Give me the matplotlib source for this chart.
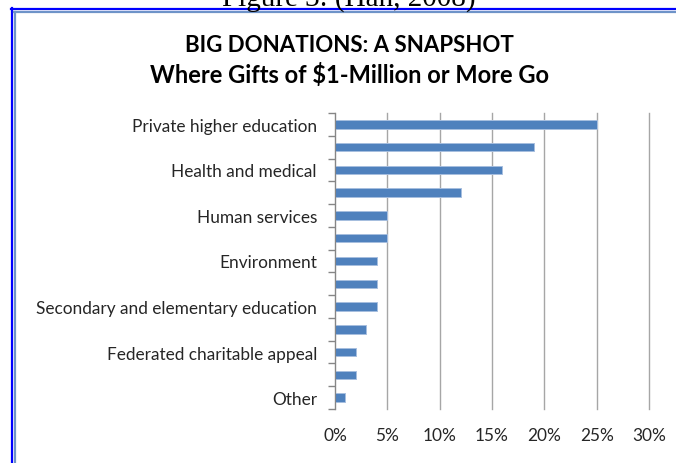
import matplotlib
matplotlib.use("Agg")
import matplotlib.pyplot as plt
import numpy as np
from matplotlib.lines import Line2D
from matplotlib.ticker import FixedLocator, PercentFormatter

# gift recipients, every other label is left blank as in the printed chart
categories = [
    "Private higher education", "", "Health and medical", "",
    "Human services", "", "Environment", "",
    "Secondary and elementary education", "", "Federated charitable appeal", "",
    "Other",
]
shares = [25, 19, 16, 12, 5, 5, 4, 4, 4, 3, 2, 2, 1]  # percent of $1M+ gifts
x_ticks = [0, 5, 10, 15, 20, 25, 30]

BAR = "#4F81BD"
GRID = "#A6A6A6"
TEXT = "#262626"

plt.rcParams["font.family"] = ["Lato", "DejaVu Sans"]

W, H = 676, 464
fig = plt.figure(figsize=(W / 100, H / 100), dpi=100)
fig.patch.set_facecolor("white")

# caption from the surrounding document, cut off by the page edge
fig.text(349 / W, 1 - 6 / H, "Figure 3: (Han, 2008)", ha="center", va="baseline",
         fontsize=21, family=["Liberation Serif", "DejaVu Serif"], color="black")

# double frame: bright outer rule, softer inner rule
def hline(y, x0, color, lw):
    fig.add_artist(Line2D([x0 / W, 1], [1 - y / H, 1 - y / H], color=color, lw=lw,
                          transform=fig.transFigure))

def vline(x, y0, color, lw):
    fig.add_artist(Line2D([x / W, x / W], [1 - y0 / H, 0], color=color, lw=lw,
                          transform=fig.transFigure))

hline(10.0, 11.0, "#0000FF", 1.6)
vline(11.8, 9.3, "#0000FF", 1.6)
hline(13.2, 14.3, "#6E93C8", 1.6)
vline(14.9, 12.5, "#6E93C8", 1.6)

fig.text(349 / W, 1 - 45 / H, "BIG DONATIONS: A SNAPSHOT", ha="center", va="center",
         fontsize=16, fontweight="bold", color="black")
fig.text(350 / W, 1 - 75 / H, "Where Gifts of $1-Million or More Go", ha="center",
         va="center", fontsize=17, fontweight="bold", color="black")

ax = fig.add_axes([335 / W, 1 - 410 / H, (649 - 335) / W, (410 - 114) / H])
y = np.arange(len(shares))
ax.barh(y, shares, height=0.37, color=BAR, edgecolor="#A7BEDF", linewidth=0.7, zorder=3)

ax.set_xlim(0, 30)
ax.set_ylim(len(shares) - 0.5, -0.5)
ax.xaxis.set_major_locator(FixedLocator(x_ticks))
ax.xaxis.set_major_formatter(PercentFormatter(decimals=0))
ax.grid(axis="x", color=GRID, lw=1.0, zorder=0)
for gl in ax.get_xgridlines():
    gl.set_clip_on(False)
ax.tick_params(axis="x", length=0, pad=13, labelsize=12.4, labelcolor=TEXT)

ax.set_yticks(y)
ax.set_yticklabels(categories)
ax.set_yticks(np.arange(len(shares) + 1) - 0.5, minor=True)
ax.tick_params(axis="y", which="major", length=0, pad=13, labelsize=12.4, labelcolor=TEXT)
ax.tick_params(axis="y", which="minor", length=5, width=1.0, color="#868686")

for side in ("top", "right", "bottom"):
    ax.spines[side].set_visible(False)
ax.spines["left"].set_color("#868686")
ax.spines["left"].set_zorder(4)

fig.savefig("out.png", dpi=100)
